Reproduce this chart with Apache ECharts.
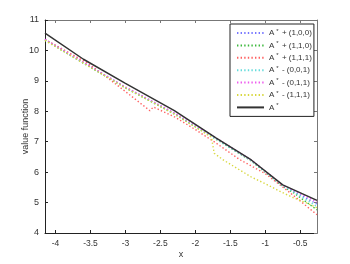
<!DOCTYPE html>
<html>
<head>
<meta charset="utf-8">
<script src="https://cdn.jsdelivr.net/npm/echarts@6/dist/echarts.min.js"></script>
<style>html,body{margin:0;padding:0;background:#fff;}#c{width:350px;height:264px;}</style>
</head>
<body>
<div id="c"></div>
<script>
// ---- data ----
var xTicks = [-4, -3.5, -3, -2.5, -2, -1.5, -1, -0.5];
var yTicks = [4, 5, 6, 7, 8, 9, 10, 11];
var seriesNames = ['A* + (1,0,0)', 'A* + (1,1,0)', 'A* + (1,1,1)', 'A* - (0,0,1)', 'A* - (0,1,1)', 'A* - (1,1,1)', 'A*'];

var xCommon = [-4.15, -3.6, -3.0, -2.3, -1.8, -1.2, -0.75, -0.6, -0.26];
var yPlus100 = [10.36, 9.60, 8.79, 7.93, 7.24, 6.39, 5.56, 5.38, 4.95];
var yPlus110 = [10.34, 9.58, 8.77, 7.91, 7.22, 6.37, 5.53, 5.33, 4.76];
var yMinus001 = [10.35, 9.59, 8.78, 7.92, 7.23, 6.38, 5.55, 5.36, 4.87];
var yMinus011 = [10.36, 9.61, 8.80, 7.95, 7.26, 6.40, 5.57, 5.41, 5.02];

var xPlus111 = [-4.15, -3.55, -3.3, -3.0, -2.65, -2.6, -2.3, -2.0, -1.7, -1.37, -1.0, -0.8, -0.6, -0.26];
var yPlus111 = [10.36, 9.60, 9.18, 8.65, 8.02, 8.14, 7.82, 7.40, 6.95, 6.42, 5.95, 5.60, 5.24, 4.60];

var xMinus111 = [-4.15, -3.6, -3.0, -2.3, -1.77, -1.73, -1.6, -1.4, -1.2, -1.0, -0.8, -0.6, -0.4, -0.26];
var yMinus111 = [10.33, 9.58, 8.77, 7.91, 7.15, 6.62, 6.40, 6.12, 5.84, 5.62, 5.38, 5.16, 4.98, 4.83];

var xStar = [-4.15, -3.6, -3.0, -2.3, -1.7, -1.2, -0.75, -0.26];
var yStar = [10.57, 9.71, 8.92, 8.02, 7.12, 6.40, 5.58, 5.07];

function pairs(xs, ys) { return xs.map(function (x, i) { return [x, ys[i]]; }); }

var FONT = 'Liberation Sans, Arial, Helvetica, sans-serif';
var dots = [1.4, 2.2];

function dotted(name, color, data) {
  return {
    name: name, type: 'line', data: data, showSymbol: false, symbol: 'none',
    animation: false,
    lineStyle: { color: color, width: 1.4, type: dots }, itemStyle: { color: color }
  };
}

var chart = echarts.init(document.getElementById('c'), null, { renderer: 'canvas' });
chart.setOption({
  animation: false,
  backgroundColor: '#fff',
  grid: { left: 45, right: 33, top: 20, bottom: 30 },
  xAxis: [{
    type: 'value', min: -4.15, max: -0.26, position: 'bottom',
    name: 'x', nameLocation: 'middle', nameGap: 17, nameMoveOverlap: false,
    nameTextStyle: { fontFamily: FONT, fontSize: 9, color: '#333' },
    axisLine: { show: true, onZero: false, lineStyle: { color: '#222', width: 1 } },
    axisTick: { show: true, inside: true, length: 3, customValues: xTicks, lineStyle: { color: '#222' } },
    axisLabel: { customValues: xTicks, fontFamily: FONT, fontSize: 8.5, color: '#333', margin: 6 },
    splitLine: { show: false }
  }, {
    type: 'value', min: -4.15, max: -0.26, position: 'top',
    axisLine: { show: true, onZero: false, lineStyle: { color: '#777', width: 1 } },
    axisTick: { show: true, inside: true, length: 3, customValues: xTicks, lineStyle: { color: '#777' } },
    axisLabel: { show: false },
    splitLine: { show: false }
  }],
  yAxis: [{
    type: 'value', min: 4, max: 11, interval: 1, position: 'left',
    name: 'value function', nameLocation: 'middle', nameGap: 15, nameMoveOverlap: false,
    nameTextStyle: { fontFamily: FONT, fontSize: 9, color: '#333' },
    axisLine: { show: true, onZero: false, lineStyle: { color: '#222', width: 1 } },
    axisTick: { show: true, inside: true, length: 3, customValues: yTicks, lineStyle: { color: '#222' } },
    axisLabel: { customValues: yTicks, fontFamily: FONT, fontSize: 9, color: '#333', margin: 6 },
    splitLine: { show: false }
  }, {
    type: 'value', min: 4, max: 11, interval: 1, position: 'right',
    axisLine: { show: true, onZero: false, lineStyle: { color: '#777', width: 1 } },
    axisTick: { show: true, inside: true, length: 3, lineStyle: { color: '#777' } },
    axisLabel: { show: false },
    splitLine: { show: false }
  }],
  legend: {
    orient: 'vertical', left: 230, top: 24,
    padding: [4, 2, 4, 6],
    itemWidth: 27, itemHeight: 10, itemGap: 2.4,
    backgroundColor: '#fff', borderColor: '#222', borderWidth: 1,
    itemStyle: { color: 'rgba(0,0,0,0)', borderWidth: 0, opacity: 0 },
    data: seriesNames,
    formatter: function (name) {
      var rest = name.slice(2);
      return '{a|A}{s|*}{a|' + rest + '}';
    },
    textStyle: {
      fontFamily: FONT, fontSize: 8, color: '#333', lineHeight: 10,
      rich: {
        a: { fontFamily: FONT, fontSize: 8, color: '#333', lineHeight: 10 },
        s: { fontFamily: FONT, fontSize: 6, color: '#333', lineHeight: 10, verticalAlign: 'top', padding: [0, 1, 0, 2] }
      }
    }
  },
  series: [
    dotted(seriesNames[0], '#7777ff', pairs(xCommon, yPlus100)),
    dotted(seriesNames[1], '#3cb83c', pairs(xCommon, yPlus110)),
    dotted(seriesNames[2], '#ff6060', pairs(xPlus111, yPlus111)),
    dotted(seriesNames[3], '#66dcdc', pairs(xCommon, yMinus001)),
    dotted(seriesNames[4], '#ee5cee', pairs(xCommon, yMinus011)),
    dotted(seriesNames[5], '#d8d840', pairs(xMinus111, yMinus111)),
    {
      name: seriesNames[6], type: 'line', data: pairs(xStar, yStar), showSymbol: false, symbol: 'none',
      animation: false, lineStyle: { color: '#333', width: 1.5 }, itemStyle: { color: '#333' }
    }
  ]
});
</script>
</body>
</html>
